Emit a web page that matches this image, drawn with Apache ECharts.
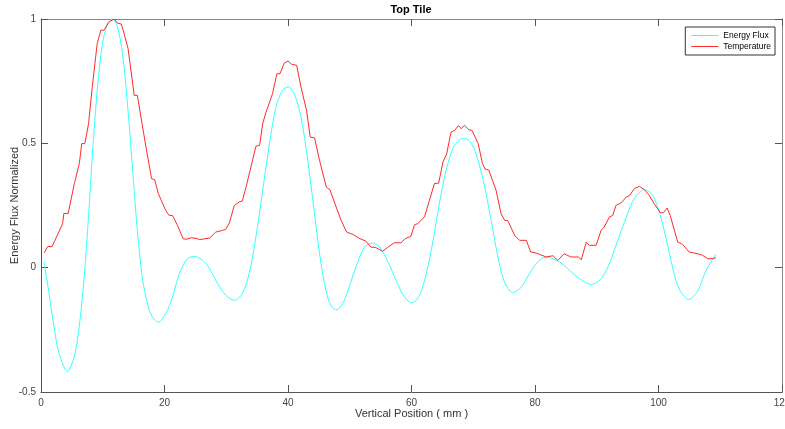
<!DOCTYPE html>
<html>
<head>
<meta charset="utf-8">
<script src="https://cdn.jsdelivr.net/npm/echarts@6/dist/echarts.min.js"></script>
<style>html,body{margin:0;padding:0;background:#fff;}#c{width:785px;height:429px;}</style>
</head>
<body>
<div id="c"></div>
<script>
// ---- data ----
var titleText = "Top Tile";
var xAxisName = "Vertical Position ( mm )";
var yAxisName = "Energy Flux Normalized";
var seriesNames = ["Energy Flux", "Temperature"];
var xTicks = [0, 20, 40, 60, 80, 100, 120];
var yTicks = [-0.5, 0, 0.5, 1];

var fluxX = [0.5, 1.31, 2.12, 2.93, 4.28, 5.36, 6.18, 6.99, 7.69, 8.34, 9.15, 9.96, 10.77, 11.58, 12.39, 13.2, 14.0, 14.8, 15.6, 16.4,
  17.25, 18.05, 19.0, 20.2, 21.3, 22.4, 23.7, 24.9, 26.2, 27.2, 28.6, 29.95, 31.3, 32.6, 33.7, 34.8, 35.9, 37.0, 38.05, 39.1, 40.05,
  41.0, 42.1, 43.2, 44.3, 45.35, 46.4, 47.2, 47.9, 48.85, 49.9, 51.0, 52.4, 53.7, 54.8, 56.1, 57.5, 58.85, 60.1, 61.3, 62.4,
  63.5, 64.5, 65.6, 66.7, 67.75, 68.7, 69.7, 70.7, 71.8, 72.9, 74.0, 75.05, 76.4, 77.8, 79.1, 80.45, 81.8, 83.97, 85.6,
  87.2, 89.1, 90.7, 92.05, 93.4, 94.8, 96.1, 97.7, 99.05, 100.2, 101.3, 102.4, 103.45, 104.9, 106.4, 107.7, 109.3];
var fluxY = [0.023, -0.105, -0.239, -0.346, -0.417, -0.36, -0.239, -0.038, 0.204, 0.459, 0.727, 0.901, 0.981, 1.0, 0.968, 0.861, 0.66, 0.405, 0.15, -0.038,
  -0.145, -0.199, -0.219, -0.185, -0.118, -0.024, 0.036, 0.045, 0.029, 0.0, -0.064, -0.111, -0.131, -0.105, -0.024, 0.123, 0.311, 0.499, 0.646, 0.713, 0.727,
  0.70, 0.606, 0.432, 0.217, 0.016, -0.118, -0.161, -0.169, -0.145, -0.078, 0.002, 0.083, 0.099, 0.083, 0.029, -0.051, -0.118, -0.142, -0.111, -0.024,
  0.11, 0.257, 0.391, 0.479, 0.515, 0.519, 0.499, 0.438, 0.331, 0.19, 0.043, -0.058, -0.10, -0.078, -0.024, 0.023, 0.043, 0.023, -0.011,
  -0.044, -0.068, -0.044, 0.016, 0.11, 0.204, 0.278, 0.314, 0.291, 0.217, 0.11, -0.011, -0.091, -0.128, -0.091, -0.011, 0.053];

var tempX = [0.5, 1.1, 1.8, 3.5, 3.7, 4.4, 5.4, 6.2, 6.6, 7.1, 7.7, 8.3, 9.1, 9.7, 10.2, 11.0, 11.85, 12.4, 13.0, 13.3, 14.1, 15.1, 15.6,
  17.0, 17.9, 18.4, 19.0, 20.2, 20.75, 21.3, 22.1, 23.0, 23.5, 24.3, 25.1, 25.7, 27.3, 28.3, 29.4, 29.9, 30.5,
  31.3, 32.1, 32.6, 33.2, 34.0, 34.8, 35.4, 35.9, 36.4, 37.5, 38.2, 38.7, 39.4, 40.0, 40.6, 41.4, 42.1, 43.0, 43.6, 44.3,
  45.1, 46.2, 46.8, 47.8, 48.6, 49.5, 50.5, 51.6, 52.6, 53.4, 54.2, 55.3, 56.1, 57.2, 58.3, 59.0, 59.9, 60.5, 61.0,
  62.1, 62.9, 63.7, 64.4, 65.1, 65.7, 66.4, 67.0, 67.6, 68.0, 68.6, 69.3, 69.8, 70.8, 71.5, 71.9, 72.5, 73.7, 74.5, 75.1, 75.6,
  76.7, 77.5, 78.6, 79.3, 80.3, 81.8, 82.9, 83.7, 84.7, 85.8, 87.0, 87.5, 88.3, 88.8, 89.9, 90.7, 91.2, 92.05, 92.6,
  93.1, 93.9, 94.8, 95.3, 96.1, 96.9, 97.7, 98.5, 99.3, 100.3, 100.8, 101.4, 101.9, 103.1, 103.9, 104.95, 106.3,
  107.1, 108.0, 108.7, 109.3];
var tempY = [0.059, 0.085, 0.085, 0.177, 0.218, 0.218, 0.338, 0.418, 0.499, 0.499, 0.579, 0.727, 0.901, 0.955, 0.955, 0.988, 1.0, 0.983, 0.98, 0.955, 0.881, 0.693, 0.693,
  0.485, 0.358, 0.354, 0.298, 0.23, 0.21, 0.21, 0.17, 0.117, 0.114, 0.12, 0.118, 0.113, 0.119, 0.143, 0.15, 0.154, 0.18,
  0.25, 0.264, 0.268, 0.324, 0.405, 0.488, 0.492, 0.579, 0.622, 0.70, 0.78, 0.78, 0.823, 0.831, 0.818, 0.814, 0.727, 0.633, 0.525, 0.522,
  0.432, 0.324, 0.313, 0.244, 0.19, 0.143, 0.134, 0.117, 0.107, 0.083, 0.081, 0.066, 0.081, 0.10, 0.10, 0.117, 0.126, 0.173, 0.177,
  0.204, 0.27, 0.338, 0.34, 0.425, 0.458, 0.545, 0.552, 0.572, 0.559, 0.572, 0.554, 0.552, 0.499, 0.418, 0.397, 0.393, 0.311, 0.217, 0.19, 0.189,
  0.13, 0.11, 0.11, 0.063, 0.058, 0.043, 0.048, 0.029, 0.056, 0.043, 0.043, 0.032, 0.103, 0.09, 0.09, 0.15, 0.163, 0.204, 0.21,
  0.25, 0.26, 0.284, 0.29, 0.318, 0.327, 0.314, 0.291, 0.257, 0.221, 0.221, 0.24, 0.21, 0.103, 0.094, 0.063, 0.056,
  0.05, 0.036, 0.036, 0.04];

function zip(xs, ys) { return xs.map(function (x, i) { return [x, ys[i]]; }); }

var font = "'Liberation Sans', Arial, sans-serif";
var chart = echarts.init(document.getElementById('c'), null, { renderer: 'canvas' });
var axisCommon = {
  type: 'value',
  splitLine: { show: false },
  nameMoveOverlap: false,
  axisTick: { show: true, inside: true, length: 7, lineStyle: { color: '#555', width: 1 } },
  axisLine: { show: true, onZero: false, lineStyle: { color: '#555', width: 1 } }
};
chart.setOption({
  animation: false,
  backgroundColor: '#fff',
  title: {
    text: titleText, left: 411, top: 4, textAlign: 'center', padding: 0,
    textStyle: { fontFamily: font, fontSize: 11, fontWeight: 'bold', color: '#000' }
  },
  legend: {
    right: 10, top: 27, orient: 'vertical',
    data: seriesNames,
    icon: 'rect',
    itemWidth: 27, itemHeight: 1, itemGap: 0,
    padding: [3, 4, 3, 6],
    borderColor: '#333', borderWidth: 1, borderRadius: 0, backgroundColor: '#fff',
    textStyle: { fontFamily: font, fontSize: 8.5, color: '#000', lineHeight: 11 }
  },
  grid: { left: 41, right: 3, top: 19, bottom: 37, containLabel: false, outerBoundsMode: 'none' },
  xAxis: [
    Object.assign({}, axisCommon, {
      position: 'bottom', min: xTicks[0], max: xTicks[xTicks.length - 1], interval: xTicks[1] - xTicks[0],
      name: xAxisName, nameLocation: 'middle', nameGap: 16,
      nameTextStyle: { fontFamily: font, fontSize: 11, color: '#333' },
      axisLabel: { fontFamily: font, fontSize: 10, color: '#444', margin: 6, hideOverlap: false }
    }),
    Object.assign({}, axisCommon, {
      position: 'top', min: xTicks[0], max: xTicks[xTicks.length - 1], interval: xTicks[1] - xTicks[0],
      axisLabel: { show: false },
      axisLine: { show: true, onZero: false, lineStyle: { color: '#888', width: 1 } }
    })
  ],
  yAxis: [
    Object.assign({}, axisCommon, {
      position: 'left', min: yTicks[0], max: yTicks[yTicks.length - 1], interval: yTicks[1] - yTicks[0],
      name: yAxisName, nameLocation: 'middle', nameGap: 21, nameRotate: 90,
      nameTextStyle: { fontFamily: font, fontSize: 11, color: '#333' },
      axisLabel: { fontFamily: font, fontSize: 10, color: '#444', margin: 5 }
    }),
    Object.assign({}, axisCommon, {
      position: 'right', min: yTicks[0], max: yTicks[yTicks.length - 1], interval: yTicks[1] - yTicks[0],
      axisLabel: { show: false },
      axisLine: { show: true, onZero: false, lineStyle: { color: '#888', width: 1 } }
    })
  ],
  series: [
    {
      name: seriesNames[0], type: 'line', xAxisIndex: 0, yAxisIndex: 0,
      data: zip(fluxX, fluxY), smooth: 0.3, symbol: 'none',
      lineStyle: { color: '#33ffff', width: 1 }, itemStyle: { color: '#33ffff' }
    },
    {
      name: seriesNames[1], type: 'line', xAxisIndex: 0, yAxisIndex: 0,
      data: zip(tempX, tempY), smooth: false, symbol: 'none',
      lineStyle: { color: '#ff2a2a', width: 1 }, itemStyle: { color: '#ff2a2a' }
    }
  ]
});
</script>
</body>
</html>
